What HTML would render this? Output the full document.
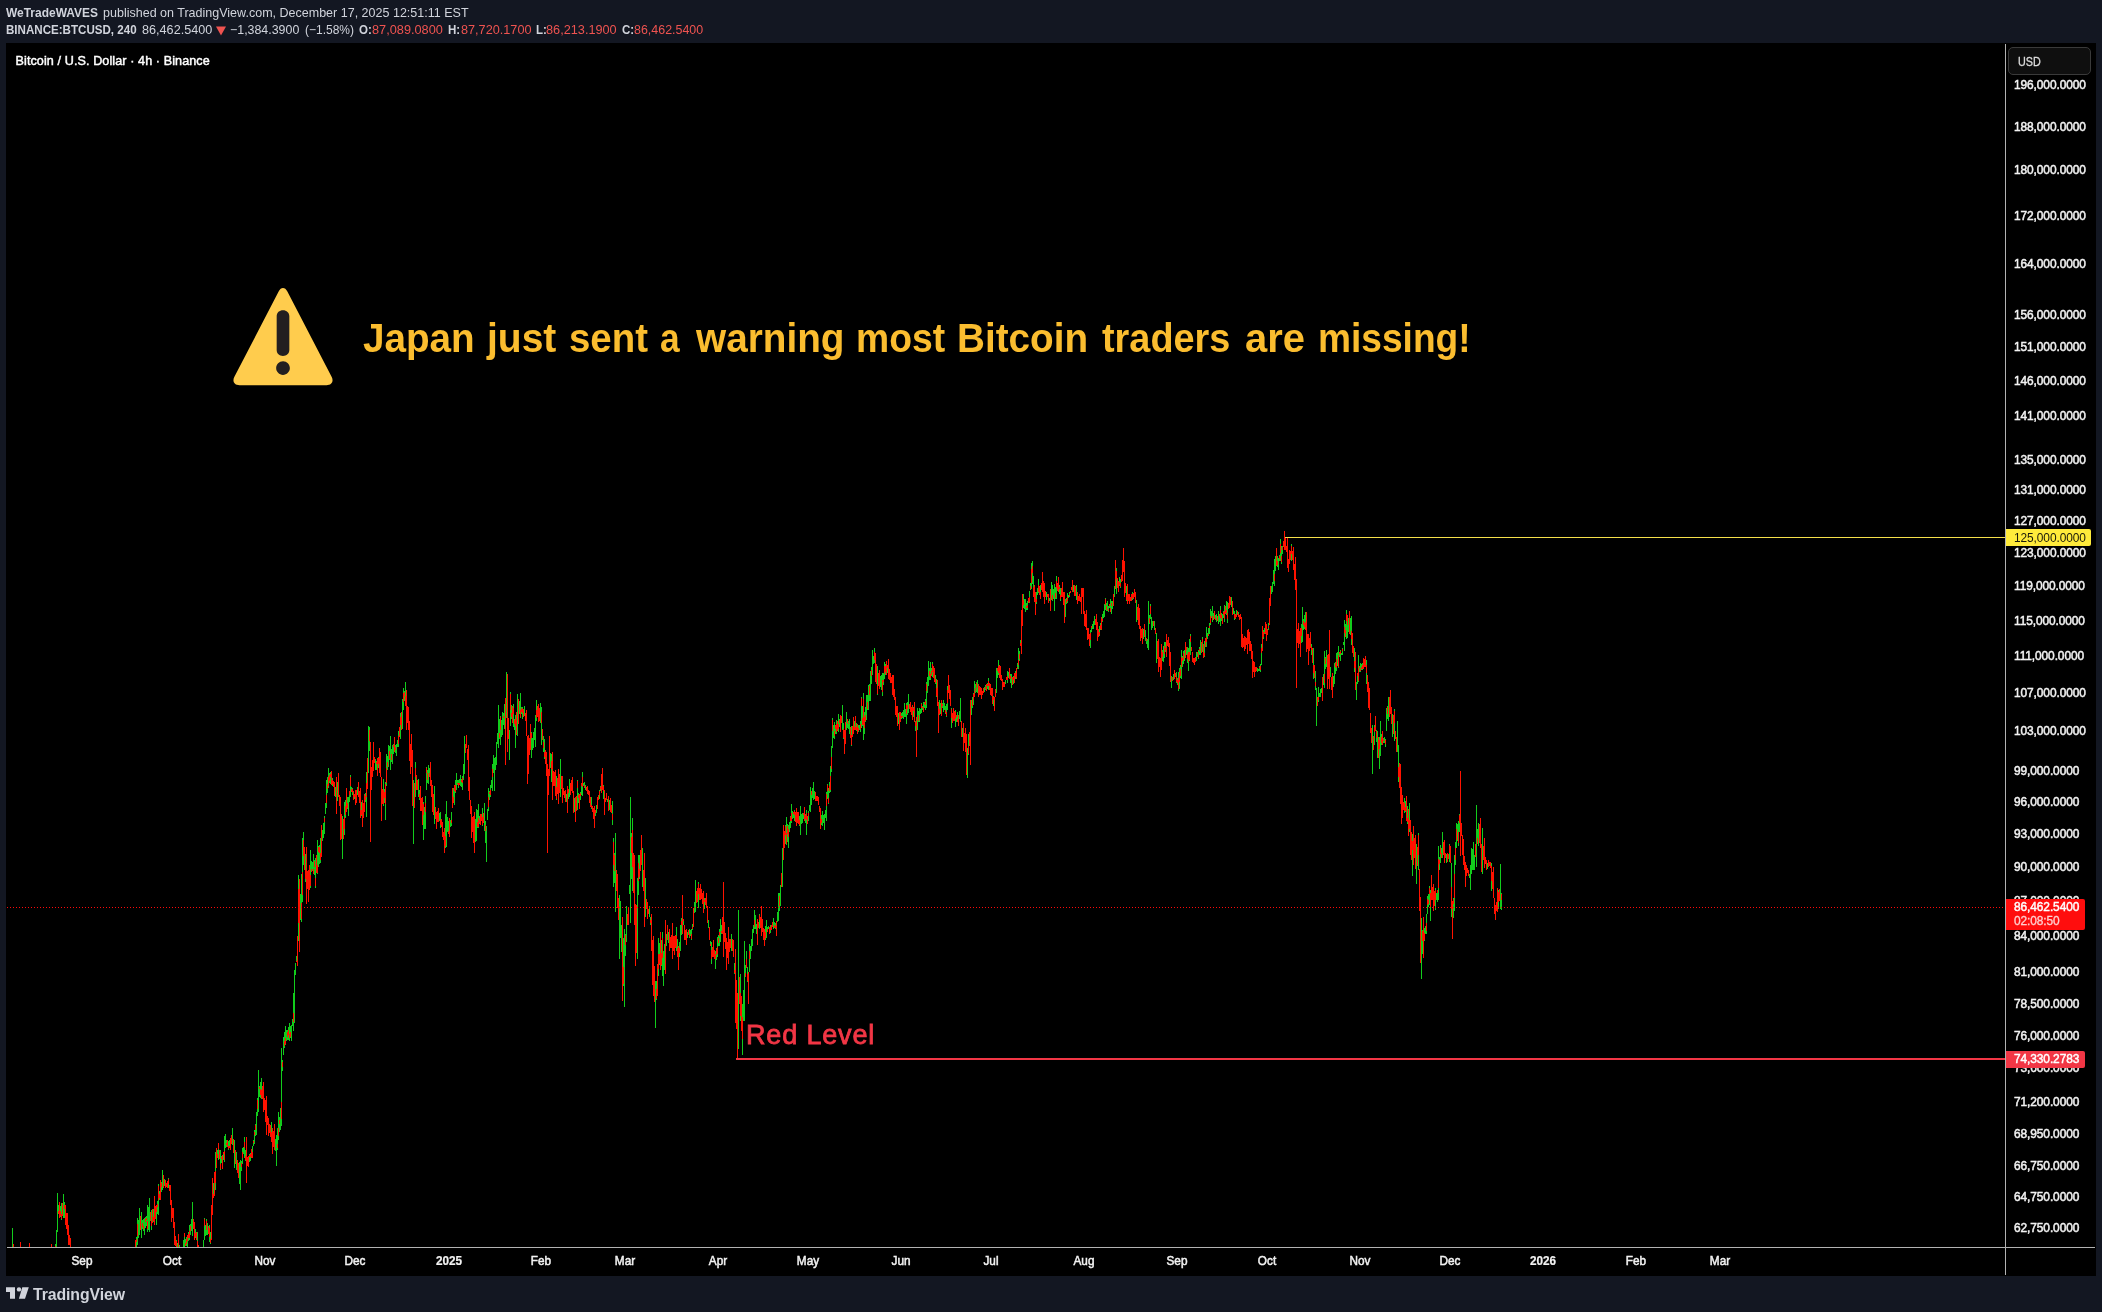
<!DOCTYPE html>
<html><head><meta charset="utf-8"><title>BTCUSD chart</title>
<style>
*{margin:0;padding:0;box-sizing:border-box}
html,body{width:2102px;height:1312px;overflow:hidden;background:#131722}
body{font-family:"Liberation Sans",sans-serif;color:#d1d4dc;position:relative}
.h{position:absolute;left:0;white-space:nowrap;font-size:12.4px;line-height:16px;height:16px}
.h span{position:absolute;top:0;white-space:nowrap;transform-origin:0 50%}
.h b{font-weight:700}
.rd{color:#ef5350}
#cbg{position:absolute;left:6px;top:43px;width:2090px;height:1233px;background:#000}
#ov{position:absolute;left:0;top:0;width:2102px;height:1312px;will-change:transform}
#chart{position:absolute;left:6px;top:43px;width:2090px;height:1233px;overflow:hidden}
#chart svg{position:absolute;left:0;top:0}
.leg{position:absolute;left:9.5px;top:9.5px;font-size:12.6px;line-height:16px;color:#fff;white-space:nowrap;letter-spacing:.09px;-webkit-text-stroke:.45px #fff}
.pl{position:absolute;left:2008.3px;width:90px;height:16px;line-height:16px;font-size:12.4px;color:#f2f2f2;white-space:nowrap;letter-spacing:-.1px;-webkit-text-stroke:.5px #f2f2f2;transform:scaleX(.962);transform-origin:0 50%}
.tl{position:absolute;top:1210px;width:60px;text-align:center;height:16px;line-height:16px;font-size:12.4px;color:#f2f2f2;-webkit-text-stroke:.5px #f2f2f2;transform:scaleX(.95)}
.tl.y{font-weight:700;-webkit-text-stroke:.2px #f2f2f2}
.usd{position:absolute;left:2002.3px;top:4px;width:83px;height:27.5px;border:1px solid #3a3a3a;border-radius:5px;background:#0f0f0f}
.usd span{position:absolute;left:8.5px;top:6.3px;font-size:12.4px;line-height:16px;color:#dcdcdc;-webkit-text-stroke:.3px #dcdcdc;transform:scaleX(.87);transform-origin:0 50%}
.tag{position:absolute;left:2000px;height:17px;border-radius:0 2px 2px 0;white-space:nowrap}
.tag span{position:absolute;left:8.3px;top:.5px;font-size:12.4px;line-height:16px;letter-spacing:-.1px;transform:scaleX(.962);transform-origin:0 50%}
.title{position:absolute;left:0;top:270.8px;height:48px;font-size:41px;line-height:48px;font-weight:700;color:#fbbd2f;white-space:nowrap}
.title span{position:absolute;top:0;transform-origin:0 50%}
.redlvl{position:absolute;left:740px;top:974.9px;font-size:27px;line-height:34px;color:#f23645;white-space:nowrap;letter-spacing:.84px;-webkit-text-stroke:.8px #f23645}
.logo{position:absolute;left:33px;top:1283.5px;font-size:16.2px;line-height:20px;font-weight:700;color:#d1d4dc;letter-spacing:-.1px;white-space:nowrap;transform:scaleX(.978);transform-origin:0 50%}
</style></head><body>
<div id="cbg"></div>
<div id="ov">
<div class="h" style="top:4.6px">
<span style="left:6.3px;transform:scaleX(0.9654)"><b>WeTradeWAVES</b></span>
<span style="left:102.8px;transform:scaleX(1.0102)">published on TradingView.com, December 17, 2025 12:51:11 EST</span>
</div>
<div class="h" style="top:21.5px">
<span style="left:6.3px;transform:scaleX(0.9345)"><b>BINANCE:BTCUSD, 240</b></span>
<span style="left:142.0px;transform:scaleX(1.0201)">86,462.5400</span>
<span style="left:230.3px;transform:scaleX(1.0006)">&minus;1,384.3900</span>
<span style="left:304.8px;transform:scaleX(0.9684)">(&minus;1.58%)</span>
<span style="left:358.6px;transform:scaleX(0.9300)"><b>O:</b></span>
<span class="rd" style="left:372.3px;transform:scaleX(1.0288)">87,089.0800</span>
<span style="left:447.6px;transform:scaleX(0.9300)"><b>H:</b></span>
<span class="rd" style="left:461.3px;transform:scaleX(1.0230)">87,720.1700</span>
<span style="left:536.3px;transform:scaleX(0.9300)"><b>L:</b></span>
<span class="rd" style="left:546.0px;transform:scaleX(1.0259)">86,213.1900</span>
<span style="left:621.5px;transform:scaleX(0.9300)"><b>C:</b></span>
<span class="rd" style="left:634.3px;transform:scaleX(1.0041)">86,462.5400</span>
</div>
<svg style="position:absolute;left:215px;top:25px" width="12" height="12" viewBox="0 0 12 12"><path d="M1 1.5H11L6 10.5Z" fill="#ef5350"/></svg>
<div id="chart">
<svg width="2090" height="1233" viewBox="6 43 2090 1233" shape-rendering="crispEdges">
<defs><clipPath id="cp"><rect x="6" y="43" width="1999" height="1204"/></clipPath></defs>
<g clip-path="url(#cp)" fill="none" stroke-width="1">
<path stroke="#12cc1c" d="M10.5 1260V1275M11.5 1257V1259M12.5 1228V1260M14.5 1258V1261M15.5 1256V1263M17.5 1255V1259M18.5 1254V1263M19.5 1251V1262M21.5 1254V1259M22.5 1253V1262M24.5 1252V1270M26.5 1251V1264M27.5 1250V1258M28.5 1250V1253M30.5 1256V1259M31.5 1259V1264M32.5 1259V1267M33.5 1255V1271M34.5 1255V1275M35.5 1260V1271M36.5 1260V1269M37.5 1259V1264M38.5 1259V1268M39.5 1259V1272M41.5 1258V1272M42.5 1260V1275M43.5 1260V1266M44.5 1261V1269M45.5 1256V1275M46.5 1258V1268M47.5 1256V1265M48.5 1251V1265M49.5 1253V1266M50.5 1254V1258M52.5 1250V1262M53.5 1250V1258M54.5 1248V1265M55.5 1244V1254M56.5 1230V1252M57.5 1193V1232M58.5 1205V1214M59.5 1211V1217M60.5 1206V1217M61.5 1203V1220M62.5 1205V1210M63.5 1194V1218M64.5 1202V1218M65.5 1210V1221M66.5 1216V1220M67.5 1224V1231M69.5 1237V1240M71.5 1249V1260M72.5 1268V1274M73.5 1260V1265M74.5 1265V1266M75.5 1265V1269M76.5 1259V1272M77.5 1263V1267M78.5 1270V1273M81.5 1268V1271M83.5 1260V1272M84.5 1262V1277M85.5 1267V1271M86.5 1263V1267M87.5 1262V1274M88.5 1262V1278M89.5 1263V1276M90.5 1263V1273M92.5 1264V1277M93.5 1272V1280M94.5 1264V1274M95.5 1264V1275M96.5 1264V1278M97.5 1265V1277M98.5 1266V1279M99.5 1265V1269M100.5 1262V1280M102.5 1264V1268M104.5 1265V1275M105.5 1263V1277M107.5 1263V1273M108.5 1264V1278M109.5 1267V1275M110.5 1263V1268M111.5 1265V1270M112.5 1264V1266M113.5 1266V1273M114.5 1265V1276M115.5 1262V1276M116.5 1262V1273M117.5 1263V1273M121.5 1262V1273M122.5 1268V1273M123.5 1271V1275M124.5 1262V1274M125.5 1261V1274M126.5 1263V1275M127.5 1262V1275M128.5 1263V1275M129.5 1261V1270M130.5 1262V1269M131.5 1258V1275M132.5 1257V1271M133.5 1255V1264M134.5 1251V1261M135.5 1244V1253M136.5 1237V1248M137.5 1218V1245M138.5 1220V1238M139.5 1208V1235M140.5 1219V1225M141.5 1212V1238M142.5 1220V1229M143.5 1219V1231M144.5 1218V1235M145.5 1217V1228M146.5 1216V1226M147.5 1205V1232M148.5 1207V1230M149.5 1198V1232M151.5 1210V1230M152.5 1217V1221M153.5 1209V1222M154.5 1198V1204M155.5 1207V1210M156.5 1205V1225M157.5 1201V1214M158.5 1184V1215M159.5 1191V1200M160.5 1188V1196M161.5 1182V1192M162.5 1170V1190M164.5 1179V1186M165.5 1181V1184M166.5 1184V1185M167.5 1182V1184M168.5 1178V1188M169.5 1185V1187M173.5 1218V1223M176.5 1240V1262M177.5 1243V1254M178.5 1243V1252M179.5 1245V1258M180.5 1261V1266M181.5 1252V1260M182.5 1247V1261M183.5 1240V1262M184.5 1233V1250M185.5 1239V1246M186.5 1237V1246M187.5 1235V1247M188.5 1232V1241M189.5 1225V1240M190.5 1224V1235M191.5 1219V1231M192.5 1202V1236M194.5 1233V1239M195.5 1229V1238M196.5 1232V1236M197.5 1232V1248M198.5 1249V1254M199.5 1262V1265M200.5 1254V1259M201.5 1250V1270M202.5 1248V1261M203.5 1240V1262M204.5 1218V1240M205.5 1225V1236M206.5 1219V1235M207.5 1223V1235M208.5 1230V1233M209.5 1225V1242M210.5 1232V1244M211.5 1222V1238M213.5 1183V1198M214.5 1173V1184M215.5 1152V1190M217.5 1150V1158M218.5 1143V1160M219.5 1151V1156M220.5 1150V1170M221.5 1156V1163M222.5 1162V1166M223.5 1152V1160M224.5 1136V1162M225.5 1134V1148M226.5 1140V1147M228.5 1141V1150M229.5 1140V1148M231.5 1135V1138M232.5 1128V1145M234.5 1140V1168M235.5 1153V1159M236.5 1152V1170M237.5 1167V1172M239.5 1162V1184M240.5 1160V1190M241.5 1161V1171M242.5 1148V1164M243.5 1147V1154M244.5 1137V1158M245.5 1150V1161M247.5 1160V1164M248.5 1161V1165M249.5 1154V1162M250.5 1153V1161M252.5 1146V1158M253.5 1140V1146M254.5 1130V1144M255.5 1124V1136M256.5 1112V1135M257.5 1098V1116M258.5 1070V1112M259.5 1086V1097M260.5 1082V1098M261.5 1078V1099M264.5 1100V1105M266.5 1101V1116M267.5 1121V1124M268.5 1124V1133M269.5 1127V1131M270.5 1127V1131M271.5 1122V1142M273.5 1142V1145M275.5 1139V1151M276.5 1135V1166M277.5 1128V1150M278.5 1112V1140M279.5 1117V1132M280.5 1108V1130M281.5 1048V1126M282.5 1060V1071M283.5 1037V1055M284.5 1032V1048M285.5 1026V1045M286.5 1030V1041M287.5 1030V1040M288.5 1027V1040M289.5 1023V1041M290.5 1026V1038M291.5 1025V1041M292.5 1019V1026M293.5 993V1031M294.5 970V1023M295.5 963V975M296.5 956V962M297.5 955V964M298.5 875V941M300.5 894V920M301.5 874V922M302.5 838V902M303.5 832V865M305.5 854V882M306.5 874V895M307.5 875V879M308.5 875V892M309.5 876V890M310.5 850V888M311.5 861V872M312.5 862V871M313.5 854V874M314.5 860V875M315.5 858V888M317.5 840V874M318.5 846V867M319.5 845V864M320.5 838V863M321.5 831V848M322.5 830V841M323.5 823V838M324.5 816V834M325.5 803V814M326.5 780V808M327.5 777V793M328.5 768V788M329.5 773V783M330.5 772V784M331.5 772V776M332.5 778V786M333.5 783V786M334.5 787V793M335.5 787V797M336.5 787V807M337.5 782V801M340.5 816V832M341.5 820V833M342.5 816V859M343.5 820V830M344.5 802V835M345.5 800V818M347.5 797V809M348.5 797V816M349.5 791V802M350.5 775V797M351.5 787V792M352.5 788V795M353.5 793V797M354.5 794V799M355.5 792V800M356.5 793V800M357.5 787V795M359.5 798V800M360.5 797V813M361.5 802V816M362.5 813V822M363.5 813V818M365.5 793V802M366.5 772V817M367.5 776V789M368.5 726V773M369.5 727V751M371.5 777V788M373.5 758V765M374.5 760V762M375.5 759V770M376.5 761V770M378.5 757V768M379.5 750V758M380.5 767V774M381.5 779V799M382.5 795V801M383.5 779V806M384.5 789V803M385.5 782V820M386.5 754V786M387.5 756V770M388.5 745V767M389.5 746V760M390.5 736V770M391.5 749V762M392.5 745V764M393.5 744V754M395.5 745V753M396.5 744V756M397.5 740V747M398.5 731V747M399.5 729V734M400.5 713V739M401.5 712V717M402.5 699V729M403.5 688V710M404.5 691V701M405.5 682V706M406.5 715V727M407.5 717V722M409.5 726V745M410.5 757V770M411.5 741V755M413.5 780V844M415.5 762V797M416.5 777V781M417.5 784V789M418.5 779V797M419.5 790V800M422.5 803V811M423.5 802V840M424.5 807V829M425.5 796V829M426.5 767V790M427.5 770V783M428.5 765V784M429.5 768V777M430.5 768V780M431.5 783V791M432.5 789V794M433.5 802V813M434.5 786V824M435.5 813V816M436.5 816V820M437.5 812V816M438.5 815V820M439.5 813V821M440.5 812V828M441.5 819V823M442.5 826V829M443.5 835V839M444.5 842V848M445.5 814V848M446.5 801V847M447.5 817V832M448.5 821V834M450.5 820V827M451.5 812V826M452.5 794V804M453.5 788V803M454.5 785V805M455.5 780V793M456.5 773V790M457.5 780V785M458.5 780V788M459.5 779V785M460.5 775V786M461.5 779V787M462.5 776V790M463.5 764V780M464.5 736V774M466.5 741V747M467.5 751V757M468.5 746V761M473.5 818V827M475.5 819V842M476.5 809V841M477.5 810V828M478.5 804V828M479.5 816V824M481.5 816V818M482.5 808V826M484.5 803V831M485.5 821V843M486.5 826V862M487.5 809V820M488.5 788V811M489.5 791V800M490.5 785V797M491.5 780V788M492.5 764V791M493.5 755V773M494.5 758V791M495.5 757V770M496.5 742V765M497.5 733V744M498.5 705V748M499.5 719V739M500.5 716V745M501.5 720V737M502.5 712V735M503.5 713V725M504.5 704V729M506.5 672V718M508.5 732V738M509.5 730V760M510.5 692V726M511.5 705V719M512.5 715V722M513.5 704V727M514.5 719V730M515.5 715V748M516.5 716V721M517.5 694V736M519.5 701V714M520.5 693V718M521.5 707V714M522.5 707V719M523.5 709V714M524.5 706V716M525.5 717V720M526.5 724V735M529.5 739V748M531.5 732V758M532.5 738V750M533.5 732V748M534.5 728V740M535.5 715V747M536.5 700V721M537.5 713V716M538.5 716V721M539.5 709V715M540.5 703V723M541.5 707V745M542.5 732V735M543.5 736V752M544.5 739V759M550.5 753V768M551.5 754V782M552.5 772V790M553.5 773V777M556.5 776V800M557.5 780V785M558.5 784V800M560.5 759V797M562.5 791V798M563.5 789V792M566.5 794V802M567.5 788V795M568.5 789V799M569.5 779V797M570.5 784V789M571.5 781V786M573.5 798V808M574.5 798V812M575.5 805V817M576.5 798V802M577.5 780V810M578.5 793V803M579.5 802V805M580.5 792V800M581.5 783V795M582.5 772V796M583.5 783V786M584.5 782V788M585.5 785V790M588.5 791V793M590.5 802V807M591.5 797V809M592.5 810V812M593.5 814V817M595.5 810V816M596.5 805V813M599.5 790V799M600.5 786V791M601.5 776V782M602.5 776V786M603.5 785V799M604.5 794V802M605.5 800V801M606.5 797V800M607.5 799V802M608.5 804V810M609.5 800V810M610.5 798V802M611.5 810V813M612.5 801V825M613.5 838V887M614.5 853V883M615.5 833V912M618.5 908V916M619.5 895V959M620.5 901V938M621.5 925V952M623.5 938V986M624.5 929V1007M625.5 934V956M626.5 906V942M627.5 921V923M629.5 885V894M630.5 797V923M631.5 833V879M632.5 818V891M637.5 878V959M638.5 855V895M639.5 855V879M642.5 848V887M645.5 878V917M646.5 904V907M647.5 902V908M648.5 909V911M649.5 906V917M650.5 917V925M651.5 922V941M652.5 961V984M654.5 984V996M655.5 981V1028M656.5 981V1000M657.5 970V983M658.5 938V976M659.5 943V965M661.5 940V966M662.5 932V976M663.5 951V986M664.5 944V970M665.5 932V958M666.5 934V946M667.5 925V933M668.5 932V943M671.5 941V947M672.5 928V938M673.5 939V942M674.5 949V954M676.5 927V951M677.5 939V957M678.5 951V956M679.5 942V957M680.5 925V951M681.5 918V935M683.5 919V925M684.5 929V934M686.5 930V936M687.5 932V938M688.5 930V932M689.5 929V938M690.5 930V936M691.5 929V940M692.5 924V930M693.5 917V923M694.5 902V913M695.5 880V912M696.5 891V895M698.5 882V908M699.5 893V898M700.5 891V897M701.5 891V895M702.5 900V904M703.5 895V901M704.5 898V909M706.5 896V904M707.5 914V921M708.5 920V928M709.5 927V934M710.5 941V946M711.5 942V964M713.5 944V949M715.5 951V969M716.5 948V960M717.5 937V957M718.5 935V946M719.5 929V946M720.5 919V942M721.5 925V934M722.5 921V929M724.5 923V930M729.5 947V950M731.5 934V951M732.5 943V948M733.5 943V952M734.5 963V974M735.5 987V1021M738.5 910V1049M739.5 983V997M740.5 974V1021M741.5 997V1016M742.5 1004V1055M743.5 990V1021M744.5 941V1021M745.5 965V977M746.5 951V968M747.5 967V982M748.5 995V1003M749.5 944V972M750.5 946V959M751.5 939V951M752.5 929V946M753.5 925V933M754.5 910V929M755.5 915V929M756.5 924V934M757.5 929V939M758.5 925V927M759.5 914V929M760.5 922V928M763.5 934V939M764.5 930V933M765.5 926V940M766.5 920V938M767.5 927V932M768.5 926V929M769.5 927V931M770.5 925V933M773.5 918V929M774.5 922V928M775.5 923V929M776.5 924V928M777.5 912V922M778.5 893V921M779.5 893V911M780.5 885V906M781.5 874V880M782.5 848V887M784.5 834V841M785.5 825V844M786.5 817V845M787.5 824V842M788.5 825V848M789.5 822V832M790.5 816V828M791.5 804V823M792.5 811V819M793.5 812V818M794.5 810V821M795.5 813V815M797.5 814V817M798.5 814V819M799.5 816V826M800.5 806V835M801.5 814V824M802.5 813V823M803.5 813V819M805.5 814V823M806.5 810V835M808.5 811V821M809.5 805V811M810.5 787V812M811.5 791V805M812.5 788V798M813.5 782V800M814.5 791V799M815.5 793V796M816.5 797V799M818.5 801V803M819.5 809V812M821.5 815V825M822.5 811V826M823.5 815V823M824.5 814V830M825.5 810V818M826.5 792V821M827.5 784V799M828.5 788V804M829.5 782V793M830.5 766V792M831.5 746V772M832.5 718V748M833.5 725V738M834.5 722V739M835.5 725V734M836.5 720V734M838.5 714V732M839.5 719V727M841.5 718V720M842.5 705V730M843.5 723V739M845.5 736V742M846.5 712V730M847.5 719V728M848.5 721V729M849.5 719V734M850.5 734V736M851.5 726V746M852.5 727V730M853.5 718V724M854.5 721V730M855.5 718V725M856.5 723V731M857.5 725V730M858.5 725V732M859.5 725V730M860.5 721V732M861.5 697V728M862.5 706V726M863.5 693V740M864.5 712V734M865.5 707V722M866.5 695V720M867.5 695V710M868.5 685V710M869.5 684V701M870.5 671V701M871.5 667V684M872.5 650V675M873.5 656V664M874.5 648V663M875.5 658V665M876.5 667V676M877.5 666V695M878.5 675V678M879.5 679V688M880.5 676V687M881.5 675V690M882.5 673V696M883.5 673V685M884.5 662V679M885.5 664V675M886.5 664V671M887.5 665V673M888.5 660V666M894.5 693V698M895.5 701V709M896.5 708V714M897.5 707V716M898.5 713V724M899.5 715V722M901.5 713V719M902.5 712V718M903.5 710V719M904.5 703V717M905.5 709V717M906.5 703V724M907.5 702V715M908.5 694V713M909.5 705V707M912.5 713V719M913.5 707V717M914.5 705V710M915.5 721V731M917.5 708V730M918.5 711V722M919.5 708V722M920.5 709V714M921.5 703V713M922.5 706V710M923.5 702V712M924.5 702V708M925.5 699V710M926.5 682V708M927.5 677V693M928.5 661V686M929.5 668V680M930.5 662V680M931.5 668V676M932.5 662V677M933.5 668V672M934.5 674V679M935.5 675V684M936.5 679V697M939.5 700V715M940.5 703V714M942.5 703V708M943.5 700V712M944.5 703V710M945.5 706V714M946.5 704V717M947.5 686V710M950.5 693V697M951.5 708V728M952.5 717V722M953.5 711V714M954.5 713V718M955.5 710V727M956.5 715V722M957.5 712V722M958.5 717V720M959.5 711V719M960.5 698V722M961.5 730V737M962.5 728V737M964.5 734V736M965.5 744V751M966.5 739V751M967.5 748V778M968.5 734V755M971.5 700V715M972.5 697V708M973.5 693V705M974.5 681V697M975.5 684V693M976.5 682V692M977.5 680V693M979.5 688V692M981.5 690V695M984.5 687V692M985.5 685V690M987.5 683V689M988.5 678V690M990.5 685V689M991.5 688V692M992.5 688V693M993.5 696V706M994.5 703V711M995.5 692V696M996.5 668V693M997.5 668V678M998.5 660V675M1000.5 666V674M1002.5 683V688M1003.5 682V684M1005.5 680V684M1007.5 671V683M1008.5 672V678M1009.5 668V674M1010.5 674V683M1011.5 674V688M1012.5 678V680M1013.5 676V684M1014.5 673V676M1015.5 671V679M1016.5 669V673M1017.5 663V669M1018.5 648V669M1019.5 651V661M1020.5 640V646M1022.5 596V609M1023.5 594V608M1024.5 599V609M1025.5 599V612M1026.5 603V610M1027.5 601V610M1028.5 601V603M1029.5 591V603M1030.5 583V590M1031.5 563V589M1032.5 561V584M1033.5 576V597M1034.5 589V598M1035.5 594V606M1036.5 592V604M1037.5 588V595M1038.5 579V593M1040.5 585V599M1043.5 588V596M1045.5 592V594M1046.5 592V600M1049.5 598V601M1050.5 593V598M1051.5 582V600M1052.5 585V601M1053.5 589V599M1054.5 584V611M1055.5 587V599M1056.5 576V599M1059.5 585V594M1060.5 588V601M1061.5 591V596M1063.5 599V603M1065.5 599V617M1066.5 598V604M1067.5 593V603M1068.5 595V598M1069.5 592V597M1072.5 583V589M1073.5 585V592M1074.5 587V592M1075.5 591V594M1076.5 585V600M1077.5 597V601M1078.5 596V598M1079.5 598V600M1080.5 600V601M1081.5 591V599M1083.5 590V596M1086.5 610V618M1089.5 641V644M1090.5 630V648M1091.5 626V632M1092.5 624V629M1093.5 621V629M1094.5 616V625M1096.5 623V627M1097.5 623V628M1098.5 633V635M1099.5 626V636M1100.5 623V630M1101.5 620V627M1102.5 614V622M1103.5 611V618M1104.5 604V617M1105.5 598V610M1106.5 603V611M1107.5 601V611M1108.5 606V612M1109.5 604V608M1110.5 599V612M1111.5 601V614M1112.5 601V609M1113.5 599V604M1114.5 586V597M1116.5 568V594M1117.5 578V583M1118.5 582V585M1119.5 577V586M1120.5 579V588M1122.5 565V571M1123.5 559V572M1124.5 580V594M1126.5 586V601M1127.5 585V591M1128.5 595V598M1129.5 600V603M1130.5 599V601M1132.5 592V600M1134.5 591V595M1135.5 594V599M1136.5 600V622M1139.5 608V613M1143.5 629V639M1144.5 633V636M1145.5 630V641M1146.5 638V644M1147.5 639V648M1148.5 601V650M1149.5 615V624M1150.5 604V619M1151.5 617V630M1152.5 621V628M1154.5 621V630M1155.5 631V633M1156.5 633V663M1157.5 644V649M1159.5 657V663M1160.5 658V663M1161.5 652V665M1162.5 650V661M1163.5 646V662M1164.5 642V658M1165.5 642V652M1167.5 642V645M1168.5 642V647M1169.5 656V664M1170.5 671V681M1171.5 676V688M1172.5 677V679M1173.5 674V680M1174.5 670V673M1176.5 672V683M1177.5 678V685M1178.5 672V691M1179.5 668V689M1180.5 665V678M1181.5 650V679M1182.5 656V667M1183.5 651V664M1184.5 650V661M1185.5 644V650M1186.5 647V655M1187.5 647V663M1188.5 648V671M1189.5 639V661M1190.5 634V655M1191.5 648V649M1192.5 654V660M1194.5 663V664M1195.5 657V659M1196.5 652V661M1197.5 652V657M1198.5 650V659M1199.5 647V655M1200.5 640V655M1202.5 637V652M1203.5 647V652M1204.5 641V657M1205.5 640V644M1206.5 627V647M1207.5 633V639M1208.5 628V636M1209.5 623V634M1210.5 609V625M1211.5 611V618M1212.5 606V622M1213.5 613V620M1214.5 617V619M1215.5 615V620M1216.5 614V622M1217.5 618V620M1218.5 611V624M1219.5 614V622M1220.5 606V626M1221.5 613V621M1222.5 614V624M1223.5 611V618M1224.5 605V622M1225.5 611V613M1226.5 601V615M1227.5 602V623M1228.5 604V607M1229.5 599V603M1230.5 599V601M1231.5 597V607M1232.5 603V608M1233.5 608V614M1234.5 611V620M1236.5 610V617M1238.5 612V617M1239.5 616V619M1243.5 642V646M1244.5 641V649M1245.5 643V647M1247.5 633V639M1248.5 632V638M1249.5 635V642M1252.5 652V658M1255.5 667V668M1256.5 669V670M1257.5 668V672M1258.5 669V671M1259.5 666V671M1260.5 664V672M1261.5 644V665M1262.5 628V633M1263.5 630V639M1264.5 628V634M1265.5 626V631M1266.5 633V639M1267.5 633V635M1268.5 623V630M1269.5 601V614M1270.5 598V605M1271.5 586V594M1272.5 582V592M1273.5 570V584M1274.5 559V586M1275.5 556V571M1277.5 556V567M1278.5 558V570M1279.5 555V561M1280.5 539V561M1281.5 546V564M1282.5 546V554M1284.5 543V547M1285.5 539V543M1286.5 550V552M1287.5 539V556M1288.5 567V571M1289.5 559V562M1290.5 555V559M1291.5 544V561M1292.5 552V555M1294.5 567V572M1295.5 572V587M1298.5 640V648M1299.5 635V641M1300.5 631V638M1301.5 624V643M1302.5 607V642M1303.5 619V630M1304.5 615V629M1305.5 612V630M1306.5 616V632M1309.5 646V649M1310.5 641V646M1311.5 644V655M1313.5 648V679M1315.5 671V690M1316.5 688V726M1318.5 687V702M1319.5 693V697M1320.5 689V697M1321.5 688V693M1322.5 679V690M1323.5 674V685M1324.5 651V688M1325.5 657V669M1326.5 650V667M1327.5 667V684M1328.5 656V662M1330.5 667V677M1331.5 684V687M1332.5 675V685M1333.5 676V687M1334.5 663V684M1335.5 662V674M1336.5 653V671M1337.5 652V666M1338.5 646V668M1339.5 652V657M1340.5 650V661M1341.5 653V655M1342.5 648V655M1343.5 642V645M1344.5 620V651M1345.5 624V637M1346.5 610V639M1347.5 615V638M1348.5 618V632M1350.5 618V635M1351.5 616V645M1352.5 636V646M1353.5 648V652M1354.5 648V672M1356.5 682V700M1357.5 673V684M1358.5 655V682M1359.5 666V672M1360.5 663V672M1361.5 664V670M1362.5 663V670M1366.5 660V684M1368.5 690V702M1372.5 725V774M1373.5 744V749M1374.5 725V745M1375.5 717V722M1376.5 730V742M1377.5 731V758M1379.5 737V769M1380.5 721V756M1381.5 734V745M1382.5 740V743M1383.5 738V743M1384.5 737V743M1385.5 739V747M1386.5 708V731M1387.5 706V719M1388.5 697V721M1389.5 701V711M1391.5 707V712M1392.5 714V737M1394.5 709V741M1396.5 742V750M1397.5 721V752M1398.5 745V782M1399.5 778V785M1402.5 796V804M1404.5 798V813M1405.5 801V812M1407.5 806V824M1408.5 809V823M1409.5 803V832M1410.5 841V854M1411.5 846V855M1412.5 834V876M1414.5 846V856M1415.5 836V844M1416.5 844V884M1418.5 833V870M1419.5 885V905M1420.5 923V950M1421.5 918V979M1422.5 930V954M1424.5 928V941M1425.5 926V934M1426.5 914V934M1427.5 896V914M1428.5 894V907M1429.5 886V905M1430.5 890V921M1433.5 905V911M1435.5 888V910M1436.5 893V900M1437.5 890V902M1438.5 846V900M1439.5 857V870M1440.5 845V863M1441.5 848V858M1442.5 832V858M1443.5 849V855M1445.5 856V857M1446.5 854V863M1449.5 844V862M1451.5 863V917M1453.5 898V918M1454.5 855V911M1455.5 842V865M1456.5 823V848M1457.5 824V841M1458.5 821V846M1459.5 814V832M1461.5 831V835M1462.5 839V844M1463.5 850V862M1464.5 866V870M1466.5 866V871M1467.5 869V871M1469.5 874V878M1470.5 865V890M1471.5 848V874M1472.5 849V870M1473.5 842V870M1474.5 855V870M1475.5 844V849M1476.5 805V867M1477.5 829V844M1478.5 823V846M1479.5 827V833M1482.5 828V874M1483.5 846V850M1485.5 862V864M1487.5 863V869M1488.5 864V866M1490.5 864V867M1491.5 863V891M1492.5 874V882M1493.5 877V892M1495.5 910V918M1496.5 904V907M1497.5 888V902M1498.5 890V909M1499.5 890V895M1500.5 864V909M1501.5 893V910"/>
<path stroke="#ff1200" d="M10.5 1261V1265M11.5 1250V1260M13.5 1244V1262M14.5 1253V1261M15.5 1259V1262M16.5 1255V1272M17.5 1254V1264M18.5 1257V1262M19.5 1257V1260M20.5 1242V1262M21.5 1248V1262M22.5 1254V1258M23.5 1253V1262M24.5 1257V1266M25.5 1252V1266M26.5 1258V1262M27.5 1254V1257M28.5 1248V1260M29.5 1243V1262M30.5 1249V1261M31.5 1251V1265M32.5 1254V1268M33.5 1255V1263M34.5 1261V1271M35.5 1262V1267M36.5 1262V1265M37.5 1259V1273M38.5 1257V1273M39.5 1264V1271M40.5 1260V1274M41.5 1261V1269M42.5 1261V1268M43.5 1260V1271M44.5 1262V1266M45.5 1256V1263M47.5 1257V1259M49.5 1254V1260M50.5 1248V1261M51.5 1244V1262M55.5 1246V1249M58.5 1211V1214M59.5 1202V1218M60.5 1211V1216M61.5 1214V1219M62.5 1203V1216M64.5 1205V1209M65.5 1205V1225M66.5 1213V1229M67.5 1213V1235M68.5 1225V1245M69.5 1235V1245M70.5 1238V1256M71.5 1250V1253M72.5 1255V1275M73.5 1259V1269M74.5 1260V1268M75.5 1261V1269M76.5 1262V1268M77.5 1261V1271M78.5 1263V1274M79.5 1261V1271M80.5 1262V1270M81.5 1259V1272M82.5 1260V1274M85.5 1263V1272M86.5 1262V1276M87.5 1269V1272M88.5 1266V1272M89.5 1265V1271M91.5 1264V1272M93.5 1264V1280M94.5 1265V1267M96.5 1265V1270M97.5 1272V1275M99.5 1264V1277M100.5 1273V1277M101.5 1264V1278M102.5 1264V1277M103.5 1265V1277M104.5 1268V1273M106.5 1264V1277M107.5 1264V1269M108.5 1264V1271M109.5 1263V1278M110.5 1262V1275M111.5 1264V1274M112.5 1264V1273M113.5 1262V1276M114.5 1270V1275M115.5 1267V1273M116.5 1268V1272M117.5 1265V1269M118.5 1264V1274M119.5 1262V1274M120.5 1263V1274M122.5 1262V1275M123.5 1263V1275M125.5 1263V1268M126.5 1263V1268M128.5 1263V1269M129.5 1266V1269M130.5 1266V1269M131.5 1267V1273M134.5 1251V1256M135.5 1240V1260M136.5 1239V1242M137.5 1224V1236M140.5 1216V1230M142.5 1223V1227M143.5 1226V1229M145.5 1219V1222M146.5 1218V1220M147.5 1221V1229M150.5 1212V1221M151.5 1221V1226M152.5 1209V1223M153.5 1217V1221M154.5 1196V1225M155.5 1206V1219M156.5 1205V1212M157.5 1204V1207M158.5 1186V1200M159.5 1194V1198M160.5 1180V1200M161.5 1183V1187M163.5 1175V1188M165.5 1180V1188M166.5 1183V1187M167.5 1181V1188M168.5 1179V1184M169.5 1185V1191M170.5 1185V1205M171.5 1200V1222M172.5 1208V1218M173.5 1208V1228M174.5 1222V1245M175.5 1236V1246M176.5 1241V1253M177.5 1250V1253M178.5 1234V1255M180.5 1250V1270M181.5 1256V1258M183.5 1250V1260M184.5 1233V1237M185.5 1243V1246M186.5 1239V1244M187.5 1235V1241M188.5 1234V1238M189.5 1231V1238M190.5 1226V1231M193.5 1219V1229M194.5 1222V1240M195.5 1233V1237M196.5 1232V1240M197.5 1241V1247M198.5 1245V1265M199.5 1250V1266M200.5 1252V1263M201.5 1254V1264M202.5 1256V1261M203.5 1247V1259M204.5 1219V1226M206.5 1221V1230M208.5 1226V1234M209.5 1228V1237M210.5 1239V1243M211.5 1205V1240M212.5 1178V1215M213.5 1194V1198M214.5 1172V1196M215.5 1171V1183M216.5 1148V1168M217.5 1154V1158M218.5 1143V1149M219.5 1150V1159M220.5 1164V1169M221.5 1157V1159M222.5 1155V1169M223.5 1152V1154M224.5 1151V1160M226.5 1143V1145M227.5 1140V1147M228.5 1146V1149M229.5 1146V1148M230.5 1138V1150M231.5 1135V1144M233.5 1139V1153M235.5 1150V1164M237.5 1160V1173M238.5 1163V1178M241.5 1163V1167M242.5 1152V1158M244.5 1142V1148M245.5 1156V1160M246.5 1137V1183M247.5 1157V1166M248.5 1156V1167M249.5 1155V1157M250.5 1154V1157M251.5 1149V1158M252.5 1152V1158M253.5 1141V1143M254.5 1132V1135M255.5 1125V1130M257.5 1100V1109M259.5 1087V1089M260.5 1089V1095M261.5 1090V1098M262.5 1086V1099M263.5 1082V1112M264.5 1098V1110M265.5 1100V1122M266.5 1096V1135M267.5 1116V1125M268.5 1118V1136M269.5 1124V1133M270.5 1125V1137M271.5 1132V1142M272.5 1128V1154M273.5 1131V1147M274.5 1124V1150M277.5 1144V1148M278.5 1128V1136M279.5 1120V1124M281.5 1102V1119M282.5 1062V1067M284.5 1041V1046M285.5 1038V1044M287.5 1032V1037M288.5 1030V1035M289.5 1034V1038M290.5 1032V1037M293.5 1013V1022M296.5 961V962M297.5 936V966M298.5 889V923M299.5 879V952M301.5 903V919M302.5 872V895M303.5 840V856M304.5 847V870M305.5 870V879M306.5 847V904M307.5 871V889M308.5 870V902M309.5 865V890M310.5 875V886M311.5 869V872M313.5 869V874M314.5 861V867M315.5 878V886M316.5 855V873M317.5 865V873M318.5 847V852M319.5 847V853M320.5 853V860M321.5 825V857M324.5 818V822M326.5 795V803M327.5 784V789M328.5 777V786M329.5 775V781M330.5 774V777M331.5 771V785M332.5 780V784M333.5 781V787M334.5 782V796M336.5 777V814M338.5 773V797M339.5 795V806M340.5 797V840M341.5 814V839M343.5 819V839M344.5 817V829M345.5 806V815M346.5 788V812M347.5 803V808M349.5 791V795M350.5 777V786M351.5 789V792M352.5 789V792M353.5 791V800M354.5 794V797M355.5 790V805M356.5 790V803M357.5 789V790M358.5 782V797M359.5 791V803M360.5 788V818M361.5 810V815M362.5 800V827M363.5 803V818M364.5 794V812M365.5 796V800M366.5 783V797M367.5 758V789M369.5 730V741M370.5 742V842M371.5 767V790M372.5 760V777M373.5 742V771M374.5 757V763M376.5 762V764M377.5 758V776M378.5 758V764M379.5 748V773M380.5 752V777M381.5 777V821M382.5 789V804M383.5 790V804M384.5 792V798M385.5 784V804M386.5 768V783M387.5 762V767M389.5 751V759M391.5 754V760M393.5 745V747M394.5 737V752M395.5 747V750M398.5 736V744M399.5 727V737M400.5 717V725M401.5 712V730M403.5 693V702M404.5 692V696M405.5 696V706M406.5 690V730M407.5 706V723M408.5 707V730M409.5 721V761M410.5 744V774M411.5 734V767M412.5 750V806M414.5 783V808M415.5 768V777M416.5 775V790M417.5 780V790M419.5 794V798M420.5 786V811M421.5 798V811M422.5 797V825M423.5 804V815M425.5 803V812M426.5 768V773M427.5 773V780M429.5 773V777M430.5 762V786M431.5 780V797M432.5 785V812M433.5 794V815M435.5 807V819M436.5 812V829M437.5 811V822M438.5 808V822M440.5 820V825M441.5 819V827M442.5 822V837M443.5 832V840M444.5 828V853M445.5 836V846M448.5 831V834M449.5 818V837M451.5 820V823M452.5 788V808M453.5 797V803M454.5 785V791M455.5 785V792M457.5 783V784M458.5 783V786M459.5 783V785M461.5 780V782M462.5 778V783M465.5 744V753M466.5 735V748M467.5 749V760M468.5 745V791M469.5 777V800M470.5 800V814M471.5 806V838M472.5 817V832M473.5 816V843M474.5 812V853M477.5 822V827M478.5 818V827M479.5 820V823M480.5 814V825M481.5 814V821M482.5 817V825M483.5 813V823M485.5 825V831M488.5 797V807M489.5 792V794M490.5 790V795M492.5 769V777M499.5 733V738M500.5 717V730M503.5 716V718M505.5 698V765M507.5 674V752M508.5 718V739M510.5 694V710M511.5 713V717M512.5 706V723M513.5 708V714M514.5 720V724M515.5 719V726M516.5 712V735M518.5 699V724M520.5 710V717M521.5 708V712M522.5 709V713M523.5 709V717M525.5 713V721M526.5 710V736M527.5 736V784M528.5 735V774M529.5 738V755M530.5 724V750M531.5 733V738M536.5 710V718M537.5 706V717M538.5 704V722M539.5 708V721M541.5 712V723M542.5 729V740M543.5 742V748M544.5 752V757M545.5 750V764M546.5 752V776M547.5 764V853M548.5 769V795M549.5 736V776M551.5 761V769M552.5 752V800M553.5 771V786M554.5 772V786M555.5 770V796M556.5 787V799M557.5 778V794M558.5 769V804M559.5 774V793M561.5 776V789M562.5 776V803M563.5 788V795M564.5 791V798M565.5 790V802M567.5 786V813M568.5 789V793M570.5 783V795M571.5 780V791M572.5 777V793M573.5 791V813M575.5 797V822M576.5 796V811M577.5 781V788M578.5 795V798M579.5 794V809M580.5 793V796M581.5 783V786M582.5 777V787M584.5 785V788M586.5 787V791M587.5 786V794M588.5 790V795M589.5 791V803M590.5 797V807M591.5 805V808M592.5 806V812M593.5 808V819M594.5 806V828M595.5 810V813M597.5 797V809M598.5 795V800M599.5 791V795M600.5 787V789M601.5 774V793M602.5 768V790M603.5 786V791M604.5 790V815M605.5 798V802M606.5 793V800M608.5 796V811M610.5 798V812M611.5 805V813M612.5 814V820M613.5 842V865M614.5 855V871M616.5 870V891M617.5 874V908M618.5 898V920M622.5 917V1001M623.5 967V984M625.5 935V945M627.5 914V925M628.5 908V925M631.5 837V853M632.5 830V867M633.5 853V893M634.5 855V925M635.5 904V966M636.5 905V953M638.5 863V881M639.5 869V877M640.5 850V871M641.5 835V865M643.5 870V891M644.5 853V927M646.5 899V909M647.5 902V919M648.5 909V914M650.5 920V923M651.5 914V951M652.5 940V985M653.5 936V996M654.5 966V1002M656.5 989V999M657.5 964V996M658.5 954V969M659.5 954V964M660.5 932V970M661.5 953V965M662.5 938V958M665.5 920V974M667.5 925V940M669.5 929V951M670.5 937V948M671.5 935V948M672.5 923V959M673.5 936V951M674.5 936V955M675.5 935V948M676.5 936V947M677.5 948V957M678.5 946V970M679.5 948V953M681.5 921V925M682.5 895V934M683.5 919V921M684.5 925V940M685.5 930V940M686.5 929V945M688.5 930V935M689.5 934V937M691.5 934V939M692.5 927V929M693.5 908V927M696.5 891V903M697.5 888V902M698.5 884V894M699.5 888V900M700.5 884V900M701.5 889V899M702.5 893V904M703.5 891V913M704.5 900V902M705.5 898V905M706.5 893V908M707.5 906V923M709.5 927V940M710.5 944V946M711.5 950V959M712.5 947V957M713.5 940V957M714.5 950V959M715.5 954V959M716.5 949V955M717.5 947V954M718.5 938V943M719.5 932V936M721.5 931V933M722.5 917V934M723.5 882V957M724.5 922V942M725.5 933V949M726.5 938V970M727.5 942V958M728.5 927V964M729.5 939V952M730.5 939V948M732.5 939V951M733.5 940V957M734.5 970V973M735.5 949V1023M736.5 980V1029M737.5 993V1058M739.5 977V1004M740.5 993V1016M741.5 996V1031M742.5 1017V1039M745.5 973V977M746.5 959V968M747.5 974V981M748.5 972V1004M749.5 951V959M754.5 920V927M757.5 919V945M758.5 922V928M759.5 915V920M760.5 917V928M761.5 906V936M762.5 919V932M763.5 928V940M764.5 929V946M765.5 932V938M767.5 929V932M769.5 927V934M770.5 927V930M771.5 925V930M772.5 922V927M774.5 925V928M775.5 926V928M776.5 921V936M779.5 896V906M781.5 873V887M783.5 825V860M784.5 831V848M785.5 826V835M786.5 833V844M787.5 826V834M788.5 829V837M790.5 817V821M791.5 813V821M793.5 812V814M794.5 811V815M795.5 812V822M796.5 808V826M797.5 812V823M798.5 812V824M799.5 820V825M803.5 813V815M804.5 807V821M805.5 815V819M806.5 813V820M807.5 816V824M808.5 813V816M811.5 791V795M815.5 792V801M816.5 796V801M817.5 796V801M818.5 797V805M819.5 806V812M820.5 808V829M821.5 819V823M826.5 794V806M827.5 785V791M828.5 798V803M829.5 786V791M830.5 776V790M831.5 757V769M832.5 720V731M834.5 731V736M835.5 725V729M836.5 724V732M837.5 721V731M838.5 724V729M839.5 720V723M840.5 715V732M841.5 716V723M843.5 729V738M844.5 730V754M845.5 722V744M847.5 719V723M848.5 723V724M850.5 727V738M851.5 735V745M852.5 726V737M853.5 717V734M854.5 727V730M855.5 716V730M856.5 727V730M857.5 724V734M858.5 728V731M860.5 724V729M861.5 698V706M862.5 718V725M863.5 699V725M864.5 717V728M865.5 715V721M867.5 702V709M869.5 686V695M871.5 670V676M874.5 652V660M875.5 653V682M876.5 664V684M877.5 685V694M878.5 673V686M879.5 670V689M882.5 680V692M883.5 680V682M884.5 666V674M885.5 666V672M886.5 661V675M887.5 665V668M888.5 659V679M889.5 669V680M890.5 673V683M891.5 677V683M892.5 675V695M893.5 675V697M894.5 689V700M895.5 697V715M896.5 706V717M897.5 706V726M899.5 712V730M900.5 712V722M901.5 716V718M902.5 716V717M906.5 705V714M907.5 705V709M909.5 704V709M910.5 702V712M911.5 707V715M912.5 705V720M913.5 708V711M914.5 702V722M915.5 722V726M916.5 717V757M918.5 715V721M921.5 704V708M922.5 707V708M923.5 707V712M924.5 703V704M925.5 701V705M926.5 684V691M929.5 671V676M930.5 674V678M931.5 671V675M932.5 664V672M933.5 666V678M934.5 668V682M935.5 679V683M936.5 688V696M937.5 680V706M938.5 702V733M939.5 709V714M941.5 700V716M942.5 704V706M945.5 710V713M946.5 712V716M947.5 690V703M948.5 675V693M949.5 685V699M950.5 690V706M951.5 709V718M952.5 713V723M953.5 708V721M954.5 711V721M955.5 712V719M956.5 715V717M957.5 719V722M958.5 715V726M961.5 721V737M963.5 723V751M964.5 733V743M965.5 728V752M966.5 734V775M968.5 746V754M969.5 732V746M970.5 700V765M972.5 700V706M973.5 694V700M974.5 691V697M975.5 688V691M976.5 683V688M978.5 684V697M979.5 686V695M980.5 687V695M981.5 688V699M982.5 691V695M983.5 688V693M985.5 687V689M986.5 684V691M987.5 684V686M988.5 681V686M989.5 683V690M990.5 684V695M991.5 688V696M992.5 688V704M993.5 697V700M994.5 697V711M995.5 689V697M997.5 668V671M998.5 666V673M999.5 665V678M1000.5 666V680M1001.5 675V681M1002.5 679V690M1003.5 682V687M1004.5 682V687M1006.5 677V680M1007.5 676V680M1009.5 668V679M1010.5 676V679M1012.5 677V685M1013.5 677V680M1014.5 673V683M1015.5 673V677M1016.5 668V679M1017.5 667V668M1018.5 660V665M1019.5 654V659M1020.5 643V646M1021.5 610V654M1022.5 594V626M1023.5 600V605M1026.5 606V608M1027.5 605V608M1028.5 598V603M1029.5 597V602M1030.5 586V589M1031.5 569V583M1032.5 566V573M1033.5 587V597M1034.5 585V602M1035.5 592V615M1036.5 599V602M1038.5 585V592M1039.5 586V595M1040.5 592V599M1041.5 583V590M1042.5 572V592M1043.5 581V597M1044.5 583V604M1045.5 591V597M1047.5 594V597M1048.5 594V603M1050.5 589V611M1052.5 595V600M1055.5 593V598M1056.5 581V588M1057.5 583V591M1058.5 577V592M1059.5 587V589M1060.5 595V599M1061.5 588V597M1062.5 582V597M1063.5 592V605M1064.5 592V623M1066.5 600V603M1067.5 597V601M1069.5 594V596M1070.5 591V593M1071.5 587V590M1072.5 580V592M1074.5 585V596M1075.5 586V596M1077.5 592V604M1078.5 596V601M1079.5 594V601M1080.5 597V602M1081.5 588V614M1082.5 588V597M1083.5 588V614M1084.5 611V626M1085.5 614V627M1086.5 610V630M1087.5 628V640M1088.5 628V639M1089.5 634V646M1090.5 633V640M1091.5 626V628M1095.5 619V625M1096.5 614V630M1097.5 622V641M1098.5 629V637M1099.5 632V635M1100.5 625V629M1101.5 617V630M1102.5 619V621M1105.5 599V605M1106.5 606V610M1108.5 609V611M1109.5 604V606M1110.5 608V612M1111.5 603V606M1113.5 594V606M1115.5 560V589M1116.5 571V579M1117.5 578V588M1118.5 581V592M1119.5 582V585M1120.5 583V587M1121.5 575V582M1122.5 560V581M1123.5 548V572M1124.5 561V597M1125.5 583V593M1126.5 595V600M1127.5 584V604M1128.5 594V601M1129.5 594V604M1130.5 597V601M1131.5 594V601M1132.5 594V598M1133.5 593V599M1134.5 589V597M1135.5 592V603M1137.5 607V620M1138.5 604V625M1139.5 608V629M1140.5 626V641M1141.5 629V638M1142.5 628V644M1144.5 624V637M1146.5 638V641M1149.5 618V623M1150.5 606V614M1153.5 621V626M1155.5 628V634M1157.5 641V659M1158.5 639V672M1159.5 657V667M1160.5 658V677M1161.5 644V670M1162.5 652V657M1164.5 646V654M1165.5 648V650M1166.5 634V657M1167.5 640V646M1168.5 637V647M1169.5 643V666M1170.5 652V682M1172.5 677V681M1174.5 670V679M1175.5 673V677M1176.5 677V682M1177.5 680V683M1178.5 678V689M1179.5 672V682M1180.5 669V676M1181.5 657V667M1182.5 658V661M1183.5 653V660M1185.5 642V658M1186.5 647V650M1187.5 654V659M1188.5 652V662M1189.5 652V660M1190.5 636V642M1191.5 647V651M1192.5 652V662M1193.5 658V663M1194.5 658V665M1195.5 657V662M1197.5 652V654M1198.5 654V658M1199.5 649V651M1201.5 642V653M1202.5 639V643M1203.5 644V658M1204.5 653V656M1205.5 638V647M1206.5 637V642M1208.5 634V636M1209.5 626V628M1210.5 616V623M1212.5 616V620M1214.5 611V619M1215.5 618V620M1217.5 616V621M1219.5 614V616M1220.5 610V618M1221.5 615V619M1222.5 619V624M1223.5 612V615M1224.5 611V619M1225.5 606V614M1226.5 610V613M1227.5 613V619M1228.5 603V609M1229.5 596V608M1230.5 597V605M1232.5 601V615M1234.5 614V618M1235.5 614V619M1236.5 615V617M1237.5 611V615M1238.5 614V617M1239.5 615V620M1240.5 614V619M1241.5 617V647M1242.5 634V648M1243.5 638V647M1244.5 636V651M1245.5 637V649M1246.5 638V645M1247.5 630V654M1248.5 629V644M1249.5 632V651M1250.5 641V651M1251.5 644V659M1252.5 651V678M1253.5 661V672M1254.5 662V677M1255.5 667V672M1256.5 667V671M1259.5 667V668M1260.5 666V670M1261.5 648V653M1262.5 626V651M1263.5 632V637M1264.5 632V633M1265.5 622V634M1266.5 624V641M1267.5 629V635M1268.5 626V628M1269.5 598V625M1270.5 586V606M1274.5 574V581M1276.5 548V566M1277.5 561V565M1279.5 556V559M1280.5 544V553M1281.5 556V562M1282.5 547V550M1283.5 541V547M1284.5 531V550M1285.5 537V550M1286.5 546V552M1287.5 537V568M1288.5 559V572M1289.5 550V564M1290.5 551V560M1291.5 546V554M1292.5 551V560M1293.5 547V570M1294.5 564V580M1295.5 557V590M1296.5 579V688M1297.5 629V643M1298.5 623V648M1299.5 631V644M1300.5 628V657M1301.5 628V636M1303.5 621V625M1304.5 623V627M1305.5 622V630M1306.5 612V652M1307.5 634V649M1308.5 634V665M1309.5 638V651M1310.5 632V648M1311.5 647V650M1312.5 648V663M1313.5 665V673M1314.5 665V678M1315.5 682V686M1317.5 697V706M1318.5 697V700M1322.5 677V701M1324.5 674V683M1325.5 658V664M1327.5 655V689M1328.5 654V679M1329.5 630V689M1331.5 677V690M1332.5 673V698M1335.5 663V667M1336.5 659V668M1338.5 655V667M1339.5 652V654M1340.5 651V654M1342.5 649V651M1344.5 627V633M1345.5 630V637M1346.5 614V621M1347.5 615V625M1349.5 611V634M1351.5 631V639M1352.5 633V653M1353.5 646V657M1354.5 661V668M1355.5 652V690M1357.5 673V676M1358.5 668V681M1359.5 666V668M1360.5 669V671M1361.5 667V669M1362.5 665V669M1363.5 658V669M1364.5 659V667M1365.5 656V667M1366.5 665V673M1367.5 675V692M1368.5 682V708M1369.5 688V710M1370.5 713V733M1371.5 728V743M1373.5 736V750M1374.5 727V732M1375.5 716V731M1376.5 731V738M1378.5 737V758M1379.5 740V749M1381.5 737V743M1382.5 731V745M1383.5 739V741M1385.5 740V744M1387.5 707V714M1389.5 697V717M1390.5 690V714M1391.5 707V724M1393.5 715V734M1394.5 711V723M1395.5 731V739M1396.5 737V752M1398.5 767V777M1399.5 763V788M1400.5 764V804M1401.5 787V824M1402.5 795V818M1403.5 802V810M1404.5 803V811M1405.5 807V811M1406.5 796V821M1407.5 818V822M1408.5 809V836M1409.5 820V829M1410.5 820V855M1411.5 832V860M1412.5 841V850M1413.5 826V865M1414.5 838V858M1415.5 835V869M1417.5 847V866M1418.5 835V855M1419.5 869V911M1420.5 897V963M1422.5 931V941M1423.5 917V958M1424.5 933V940M1426.5 923V931M1427.5 899V905M1428.5 900V904M1429.5 888V894M1430.5 893V907M1431.5 875V900M1432.5 887V900M1433.5 884V911M1434.5 891V906M1435.5 890V900M1437.5 890V893M1438.5 859V888M1439.5 860V864M1440.5 848V854M1441.5 853V858M1443.5 842V855M1444.5 840V863M1445.5 853V858M1447.5 853V862M1448.5 854V859M1449.5 845V853M1450.5 846V863M1451.5 887V909M1452.5 901V939M1453.5 899V904M1454.5 874V898M1455.5 848V860M1456.5 829V840M1458.5 832V843M1459.5 815V823M1460.5 771V856M1461.5 823V836M1462.5 835V855M1463.5 839V865M1464.5 856V870M1465.5 862V887M1466.5 865V876M1467.5 868V873M1468.5 870V876M1475.5 844V857M1477.5 838V844M1479.5 824V843M1480.5 818V848M1481.5 844V872M1483.5 846V860M1484.5 838V868M1485.5 857V864M1486.5 860V870M1488.5 860V867M1489.5 862V866M1490.5 862V868M1491.5 866V881M1492.5 872V889M1493.5 867V898M1494.5 898V914M1495.5 905V920M1496.5 902V911M1497.5 888V912M1498.5 892V902M1499.5 889V901M1501.5 894V900"/>
</g>
<path d="M7 907.5H2004" stroke="#ff0808" stroke-width="1" stroke-dasharray="1 2" fill="none"/>
<path d="M1285 537.5H2005" stroke="#f5e04a" stroke-width="1" fill="none"/>
<path d="M736 1059H2005" stroke="#f23645" stroke-width="2" fill="none"/>
<path d="M2005.5 44V1275M7 1247.5H2095" stroke="#b2b2b2" stroke-width="1" fill="none"/>
</svg>
<svg style="left:226px;top:243px" width="102" height="102" viewBox="0 0 36 36"><path fill="#FFCC4D" d="M2.653 35C.811 35-.001 33.662.847 32.027L16.456 1.972c.849-1.635 2.238-1.635 3.087 0l15.609 30.056c.85 1.634.037 2.972-1.805 2.972H2.653z"/><path fill="#231F20" d="M15.583 28.953c0-1.333 1.085-2.418 2.419-2.418 1.333 0 2.418 1.085 2.418 2.418 0 1.334-1.086 2.419-2.418 2.419-1.334 0-2.419-1.085-2.419-2.419zm.186-18.293c0-1.302.961-2.108 2.232-2.108 1.241 0 2.233.837 2.233 2.108v11.938c0 1.271-.992 2.108-2.233 2.108-1.271 0-2.232-.807-2.232-2.108V10.66z"/></svg>
<div class="leg">Bitcoin / U.S. Dollar &middot; 4h &middot; Binance</div>
<div class="title"><span style="left:357.2px;transform:scaleX(0.9429)">Japan</span> <span style="left:481.4px;transform:scaleX(0.9510)">just</span> <span style="left:562.7px;transform:scaleX(0.9361)">sent</span> <span style="left:654.3px;transform:scaleX(0.8609)">a</span> <span style="left:690.1px;transform:scaleX(0.9447)">warning</span> <span style="left:849.5px;transform:scaleX(0.9096)">most</span> <span style="left:951.3px;transform:scaleX(0.9430)">Bitcoin</span> <span style="left:1096.0px;transform:scaleX(0.9232)">traders</span> <span style="left:1239.3px;transform:scaleX(0.9739)">are</span> <span style="left:1312.4px;transform:scaleX(0.9053)">missing!</span></div>
<div class="redlvl">Red Level</div>
<div class="usd"><span>USD</span></div>
<div class="pl" style="top:33.6px">196,000.0000</div><div class="pl" style="top:75.6px">188,000.0000</div><div class="pl" style="top:119.4px">180,000.0000</div><div class="pl" style="top:165.2px">172,000.0000</div><div class="pl" style="top:213.2px">164,000.0000</div><div class="pl" style="top:263.6px">156,000.0000</div><div class="pl" style="top:296.4px">151,000.0000</div><div class="pl" style="top:330.2px">146,000.0000</div><div class="pl" style="top:365.2px">141,000.0000</div><div class="pl" style="top:408.8px">135,000.0000</div><div class="pl" style="top:439.0px">131,000.0000</div><div class="pl" style="top:470.1px">127,000.0000</div><div class="pl" style="top:502.2px">123,000.0000</div><div class="pl" style="top:535.4px">119,000.0000</div><div class="pl" style="top:569.7px">115,000.0000</div><div class="pl" style="top:605.2px">111,000.0000</div><div class="pl" style="top:642.0px">107,000.0000</div><div class="pl" style="top:680.2px">103,000.0000</div><div class="pl" style="top:720.0px">99,000.0000</div><div class="pl" style="top:750.8px">96,000.0000</div><div class="pl" style="top:782.7px">93,000.0000</div><div class="pl" style="top:815.6px">90,000.0000</div><div class="pl" style="top:849.6px">87,000.0000</div><div class="pl" style="top:884.8px">84,000.0000</div><div class="pl" style="top:921.3px">81,000.0000</div><div class="pl" style="top:952.7px">78,500.0000</div><div class="pl" style="top:985.2px">76,000.0000</div><div class="pl" style="top:1017.4px">73,600.0000</div><div class="pl" style="top:1050.7px">71,200.0000</div><div class="pl" style="top:1082.9px">68,950.0000</div><div class="pl" style="top:1115.4px">66,750.0000</div><div class="pl" style="top:1145.9px">64,750.0000</div><div class="pl" style="top:1177.4px">62,750.0000</div>
<div class="tl" style="left:45.5px">Sep</div><div class="tl" style="left:135.5px">Oct</div><div class="tl" style="left:228.5px">Nov</div><div class="tl" style="left:318.5px">Dec</div><div class="tl y" style="left:412.5px">2025</div><div class="tl" style="left:504.5px">Feb</div><div class="tl" style="left:588.5px">Mar</div><div class="tl" style="left:681.5px">Apr</div><div class="tl" style="left:771.5px">May</div><div class="tl" style="left:864.5px">Jun</div><div class="tl" style="left:954.5px">Jul</div><div class="tl" style="left:1047.5px">Aug</div><div class="tl" style="left:1140.5px">Sep</div><div class="tl" style="left:1230.5px">Oct</div><div class="tl" style="left:1323.5px">Nov</div><div class="tl" style="left:1413.5px">Dec</div><div class="tl y" style="left:1506.5px">2026</div><div class="tl" style="left:1599.5px">Feb</div><div class="tl" style="left:1683.5px">Mar</div>
<div class="tag" style="top:486px;width:85px;background:#ffeb3b;color:#1a1a0a"><span>125,000.0000</span></div>
<div class="tag" style="top:856px;width:79px;height:31px;background:#ff0d0d;color:#fff"><span style="top:-.3px;-webkit-text-stroke:.45px #fff">86,462.5400</span><span style="top:13.8px;color:#ffd0d0;-webkit-text-stroke:.3px #ffd0d0">02:08:50</span></div>
<div class="tag" style="top:1007.5px;width:79px;background:#f23645;color:#fff"><span style="-webkit-text-stroke:.45px #fff">74,330.2783</span></div>
</div>
<svg style="position:absolute;left:6px;top:1287px" width="24" height="13" viewBox="0 0 24 13"><path fill="#d1d4dc" d="M0 .3H9V11.8H4V4.9H0ZM16.3 .3H22.8L19 11.8H12.9Z"/><circle cx="13" cy="2.4" r="2.2" fill="#d1d4dc"/></svg>
<div class="logo">TradingView</div>
</div>
</body></html>
